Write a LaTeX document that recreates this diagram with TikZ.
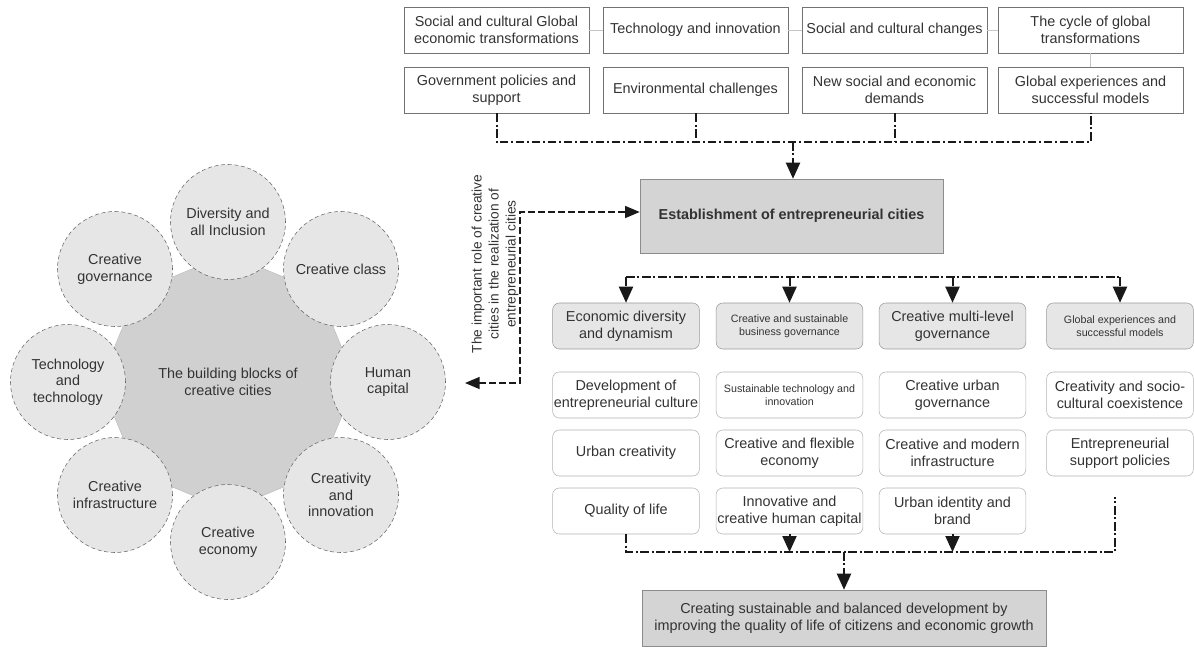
\documentclass[tikz,border=0pt]{standalone}
\usepackage{fontspec}
\setmainfont{Liberation Sans}
\usepackage{tikz}
\usetikzlibrary{arrows.meta,shapes.geometric}

\definecolor{txtgray}{HTML}{333333}
\definecolor{ringfill}{HTML}{E6E6E6}
\definecolor{corefill}{HTML}{D0D0D0}
\definecolor{headfill}{HTML}{D4D4D4}
\definecolor{subfill}{HTML}{E6E6E6}

\tikzset{
  txt/.style={font=\fontsize{10.8}{12.5}\selectfont, text=txtgray, align=center},
  smalltxt/.style={font=\fontsize{8}{9.5}\selectfont},
  cause/.style={txt, draw=black!55, fill=white, minimum width=138.75pt,
    minimum height=34.5pt, inner sep=1pt},
  mainbox/.style={txt, draw=black!45, fill=headfill, inner sep=1pt},
  pillar/.style={txt, draw=black!40, fill=subfill, rounded corners=5pt,
    minimum width=110pt, minimum height=34.5pt, inner sep=1pt},
  measure/.style={txt, draw=black!30, fill=white, rounded corners=5pt,
    minimum width=110pt, minimum height=34.5pt, inner sep=1pt},
  block/.style={txt, circle, draw=black!60, densely dashed, thin,
    fill=ringfill, minimum size=86.25pt, inner sep=0pt},
  busline/.style={line width=1.5pt, black!90,
    dash pattern=on 6.5pt off 2pt on 1.5pt off 2pt},
  headed/.style={-{Triangle[length=12pt,width=10.5pt]}},
  rolelink/.style={line width=1.1pt, black!90, dash pattern=on 5pt off 2.5pt,
    {Triangle[length=11pt,width=9pt]}-{Triangle[length=11pt,width=9pt]}},
  thinlink/.style={gray!45, line width=0.5pt}
}

\begin{document}
\begin{tikzpicture}[x=0.75pt, y=-0.75pt]
      \useasboundingbox (0,0) rectangle (1194,646);

      % building blocks
      \node[txt, regular polygon, regular polygon sides=8, minimum size=192pt,
            shape border rotate=22.5, fill=corefill, draw=black!25]
            (core) at (228,382) {The building blocks of\\creative cities};
      \node[block] (b1) at (228,222) {Diversity and\\all Inclusion};
      \node[block] (b2) at (115,269) {Creative\\governance};
      \node[block] (b3) at (341,269) {Creative class};
      \node[block] (b4) at (68,382)  {Technology\\and\\technology};
      \node[block] (b5) at (388,382) {Human\\capital};
      \node[block] (b6) at (115,495) {Creative\\infrastructure};
      \node[block] (b7) at (228,542) {Creative\\economy};
      \node[block] (b8) at (341,495) {Creativity\\and\\innovation};

      % driving factors
      \node[cause] (f1) at (496.5,30)  {Social and cultural Global\\economic transformations};
      \node[cause] (f2) at (695.5,30)  {Technology and innovation};
      \node[cause] (f3) at (894.5,30)  {Social and cultural changes};
      \node[cause] (f4) at (1090.5,30) {The cycle of global\\transformations};
      \node[cause] (f5) at (496.5,90)  {Government policies and\\support};
      \node[cause] (f6) at (695.5,90)  {Environmental challenges};
      \node[cause] (f7) at (894.5,90)  {New social and economic\\demands};
      \node[cause] (f8) at (1090.5,90) {Global experiences and\\successful models};
      \draw[thinlink] (f1) -- (f2);
      \draw[thinlink] (f2) -- (f3);
      \draw[thinlink] (f3) -- (f4);
      \draw[thinlink] (f4) -- (f8);

      \node[mainbox, font=\fontsize{10.8}{12.5}\selectfont\bfseries,
            minimum width=227.25pt, minimum height=55.5pt]
            (est) at (791.5,216) {Establishment of entrepreneurial cities};

      % factors feed the entrepreneurial city
      \coordinate (join) at (793,142);
      \draw[busline] (f5.south) |- (join) -| (f8.south);
      \draw[busline] (f6.south) -- (f6.south |- join);
      \draw[busline] (f7.south) -- (f7.south |- join);
      \draw[busline, headed] (join) -- (join |- est.north);

      % role of creative cities
      \coordinate (roleend) at (465,383);
      \coordinate (rolebend) at (520,212);
      \draw[rolelink] (roleend) -| (rolebend) -- (rolebend -| est.west);
      \node[txt, font=\fontsize{10.3}{12.75}\selectfont, rotate=90]
            (role) at (495,264) {The important role of creative\\cities in the realization of\\entrepreneurial cities};

      % pillars
      \node[pillar] (p1) at (626,326) {Economic diversity\\and dynamism};
      \node[pillar, smalltxt] (p2) at (789.5,326) {Creative and sustainable\\business governance};
      \node[pillar] (p3) at (952.5,326) {Creative multi-level\\governance};
      \node[pillar, smalltxt] (p4) at (1120,326) {Global experiences and\\successful models};
      \coordinate (busL) at (626,277);
      \coordinate (busR) at (1120,277);
      \draw[busline] (busL) -- (busR);
      \draw[busline, headed] (busL) -- (p1);
      \draw[busline, headed] (p2 |- busL) -- (p2);
      \draw[busline, headed] (p3 |- busL) -- (p3);
      \draw[busline, headed] (busR) -- (p4);

      % measures
      \node[measure] (m11) at (626,395) {Development of\\entrepreneurial culture};
      \node[measure, smalltxt] (m12) at (789.5,395) {Sustainable technology and\\innovation};
      \node[measure] (m13) at (952.5,395) {Creative urban\\governance};
      \node[measure] (m14) at (1120,395) {Creativity and socio-\\cultural coexistence};
      \node[measure] (m21) at (626,453) {Urban creativity};
      \node[measure] (m22) at (789.5,453) {Creative and flexible\\economy};
      \node[measure] (m23) at (952.5,453) {Creative and modern\\infrastructure};
      \node[measure] (m24) at (1120,453) {Entrepreneurial\\support policies};
      \node[measure] (m31) at (626,511) {Quality of life};
      \node[measure] (m32) at (789.5,511) {Innovative and\\creative human capital};
      \node[measure] (m33) at (952.5,511) {Urban identity and\\brand};

      \node[mainbox, minimum width=303pt, minimum height=42pt]
            (goal) at (844,618) {Creating sustainable and balanced development by\\improving the quality of life of citizens and economic growth};

      % measures lead to the goal
      \coordinate (outR) at (1115,552);
      \coordinate (outTop) at (1115,497);
      \coordinate (outMid) at (844,552);
      \draw[busline] (m31.south) |- (outR) -- (outTop);
      \draw[busline, headed] (m32) -- (m32 |- outR);
      \draw[busline, headed] (m33) -- (m33 |- outR);
      \draw[busline, headed] (outMid) -- (goal);
\end{tikzpicture}
\end{document}
